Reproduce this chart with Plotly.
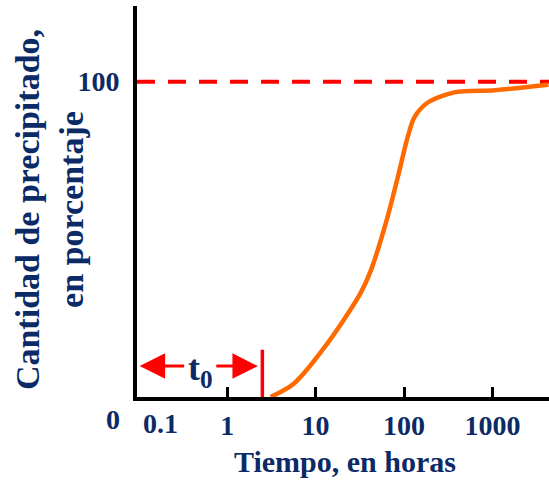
import math
import plotly.graph_objects as go

# ---- data ----
time_h = [3.1, 5.7, 13.6, 32, 42, 65, 85, 110, 131, 186, 372, 1070, 4300]
precip_pct = [0.0, 4.3, 17.0, 32.8, 40.0, 57.0, 69.7, 82.4, 88.7, 93.4, 96.6, 97.3, 99.0]
complete_pct = 100
t0_hours = 2.5
t0_marker_top = 15
arrow_level = 9.8
x_tick_vals = [1, 10, 100, 1000]
x_tick_text = ["1", "10", "100", "1000"]
x_range = [-1.02, 3.64]   # log10
y_range = [0, 124]

NAVY = "#0b2a66"
FONT = "Liberation Serif"

fig = go.Figure()

# reference line at 100 %
fig.add_trace(go.Scatter(
    x=[10 ** x_range[0], 10 ** x_range[1]], y=[complete_pct, complete_pct],
    mode="lines", line=dict(color="#ff0000", width=4, dash="18px,13px"),
    hoverinfo="skip", showlegend=False, cliponaxis=False))

# t0 marker
fig.add_trace(go.Scatter(
    x=[t0_hours, t0_hours], y=[0, t0_marker_top],
    mode="lines", line=dict(color="#ff0000", width=3.5),
    showlegend=False, cliponaxis=False))

# precipitation curve
fig.add_trace(go.Scatter(
    x=time_h, y=precip_pct, mode="lines",
    line=dict(color="#ff6a00", width=4.5, shape="spline", smoothing=0.8),
    showlegend=False, cliponaxis=False))

lx = math.log10
annotations = [
    # arrows for t0
    dict(x=x_range[0] + 0.03, y=arrow_level, ax=-0.47, ay=arrow_level,
         xref="x", yref="y", axref="x", ayref="y", text="", showarrow=True,
         arrowhead=2, arrowsize=1.7, arrowwidth=3, arrowcolor="#ff0000"),
    dict(x=lx(t0_hours) - 0.05, y=arrow_level, ax=-0.14, ay=arrow_level,
         xref="x", yref="y", axref="x", ayref="y", text="", showarrow=True,
         arrowhead=2, arrowsize=1.7, arrowwidth=3, arrowcolor="#ff0000"),
    dict(x=-0.307, y=arrow_level, xref="x", yref="y", showarrow=False,
         text="<b>t<sub>0</sub></b>", font=dict(family=FONT, size=36, color=NAVY),
         yshift=-4),
    # 0.1 label and 0 label
    dict(x=lx(0.1), y=0, xref="x", yref="y", showarrow=False, text="<b>0.1</b>",
         xanchor="center", yanchor="middle", xshift=22, yshift=-26,
         font=dict(family=FONT, size=28, color=NAVY)),
    dict(x=0, y=0, xref="paper", yref="y", showarrow=False, text="<b>0</b>",
         xanchor="center", yanchor="middle", xshift=-24, yshift=-22,
         font=dict(family=FONT, size=28, color=NAVY)),
    # axis titles
    dict(x=0.505, y=0, xref="paper", yref="paper", showarrow=False,
         text="<b>Tiempo, en horas</b>", xanchor="center", yanchor="middle",
         yshift=-64, font=dict(family=FONT, size=30, color=NAVY)),
    dict(x=0, y=0.478, xref="paper", yref="paper", showarrow=False,
         text="<b>Cantidad de precipitado,<br>en porcentaje</b>", textangle=-90,
         xanchor="center", yanchor="middle", xshift=-88,
         font=dict(family=FONT, size=34, color=NAVY)),
]

fig.update_layout(
    width=549, height=480,
    margin=dict(l=137, r=0, t=6, b=83),
    paper_bgcolor="white", plot_bgcolor="white",
    showlegend=False,
    annotations=annotations,
    xaxis=dict(
        type="log", range=x_range, automargin=False,
        tickvals=x_tick_vals, ticktext=["<b>%s</b>" % t for t in x_tick_text],
        ticks="inside", ticklen=10, tickwidth=3, tickcolor="black",
        showline=True, linecolor="black", linewidth=4,
        showgrid=False, zeroline=False,
        tickfont=dict(family=FONT, size=28, color=NAVY),
        ticklabelstandoff=0,
    ),
    yaxis=dict(
        range=y_range, automargin=False,
        tickvals=[100], ticktext=["<b>100</b>"], ticks="",
        showline=True, linecolor="black", linewidth=4,
        showgrid=False, zeroline=False,
        tickfont=dict(family=FONT, size=28, color=NAVY),
        ticklabelstandoff=8,
    ),
)

fig.write_html("out.html", config={"displayModeBar": False},
               post_script="document.body.style.margin='0';document.body.style.overflow='hidden';")
